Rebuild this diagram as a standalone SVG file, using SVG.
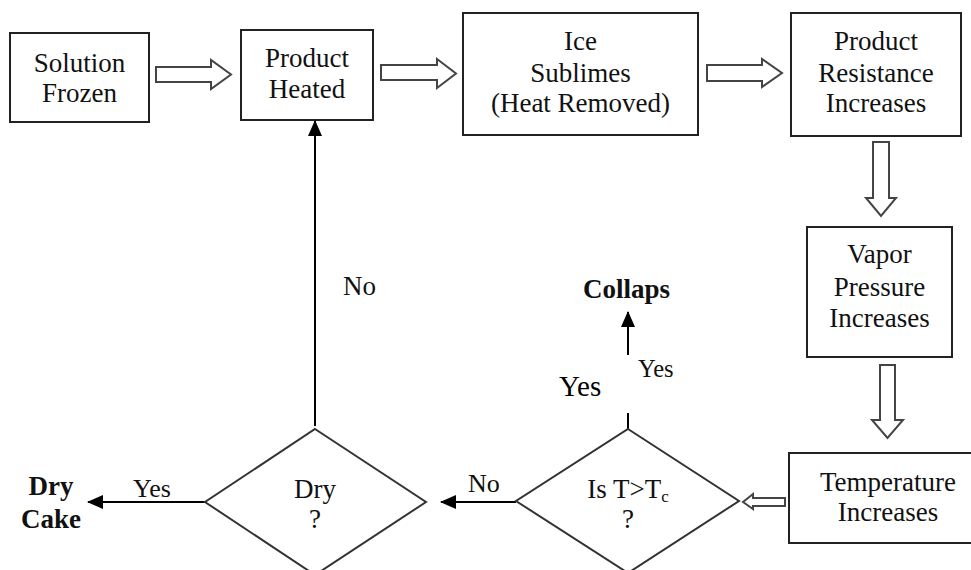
<svg xmlns="http://www.w3.org/2000/svg" width="971" height="570" viewBox="0 0 971 570">
<defs>
<style>
.box{fill:#fff;stroke:#222;stroke-width:2}
.dia{fill:#fff;stroke:#333;stroke-width:2}
.hol{fill:#fff;stroke:#444;stroke-width:2;stroke-linejoin:miter}
.con{fill:none;stroke:#000;stroke-width:2}
.t{font-family:"Liberation Serif","Times New Roman",serif;font-size:27px;fill:#111}
.c{text-anchor:middle}
.b{font-weight:bold}
</style>
<marker id="ah" markerUnits="userSpaceOnUse" markerWidth="16" markerHeight="14" refX="15" refY="7" orient="auto">
<path d="M0,0 L16,7 L0,14 Z" fill="#000"/>
</marker>
</defs>
<rect width="971" height="570" fill="#fff"/>

<g id="connectors">
<path class="hol" d="M156,67 H211 V60 L231,74.5 L211,89 V82 H156 Z"/>
<path class="hol" d="M381,65 H437 V59 L456,73.5 L437,88 V80 H381 Z"/>
<path class="hol" d="M707,65 H762 V59 L782,73 L762,87 V81 H707 Z"/>
<path class="hol" d="M873,142 V198 H866 L881,216 L896,198 H889 V142 Z"/>
<path class="hol" d="M880,365 V420 H872 L887.5,438 L903,420 H895 V365 Z"/>
<path class="hol" d="M785,498 H753 V494 L743,502 L753,509 V506 H785 Z"/>
<line class="con" x1="315" y1="426" x2="315" y2="121" marker-end="url(#ah)"/>
<line class="con" x1="516" y1="502" x2="441" y2="502" marker-end="url(#ah)"/>
<line class="con" x1="205" y1="502" x2="88" y2="502" marker-end="url(#ah)"/>
<line class="con" x1="628" y1="429" x2="628" y2="413"/>
<line class="con" x1="628" y1="355" x2="628" y2="312" marker-end="url(#ah)"/>
<text class="t" x="343" y="295">No</text>
<text class="t" x="468" y="492" style="font-size:26px">No</text>
<text class="t" x="133" y="497" style="font-size:26px">Yes</text>
<text class="t" x="638" y="377" style="font-size:24.5px">Yes</text>
<text class="t" x="559" y="396" style="font-size:29px;fill:#000">Yes</text>
</g>

<g id="solution-frozen">
<rect class="box" x="10" y="33" width="139" height="89"/>
<text class="t c"><tspan x="79.5" y="72">Solution</tspan><tspan x="79.5" y="102">Frozen</tspan></text>
</g>
<g id="product-heated">
<rect class="box" x="241" y="30" width="132" height="90"/>
<text class="t c"><tspan x="307" y="67">Product</tspan><tspan x="307" y="98">Heated</tspan></text>
</g>
<g id="ice-sublimes">
<rect class="box" x="463" y="13" width="235" height="122"/>
<text class="t c"><tspan x="580.5" y="50">Ice</tspan><tspan x="580.5" y="82">Sublimes</tspan><tspan x="580.5" y="112">(Heat Removed)</tspan></text>
</g>
<g id="product-resistance">
<rect class="box" x="791" y="13" width="170" height="123"/>
<text class="t c"><tspan x="876" y="50">Product</tspan><tspan x="876" y="82">Resistance</tspan><tspan x="876" y="112">Increases</tspan></text>
</g>
<g id="vapor-pressure">
<rect class="box" x="807" y="227" width="145" height="130"/>
<text class="t c"><tspan x="879.5" y="263">Vapor</tspan><tspan x="879.5" y="296">Pressure</tspan><tspan x="879.5" y="327">Increases</tspan></text>
</g>
<g id="temperature">
<rect class="box" x="789" y="453" width="200" height="90"/>
<text class="t c"><tspan x="888" y="491">Temperature</tspan><tspan x="888" y="521">Increases</tspan></text>
</g>
<g id="is-t-tc">
<path class="dia" d="M628,429 L739,501 L628,573 L516,501 Z"/>
<text class="t c"><tspan x="628" y="498">Is T&gt;T<tspan style="font-size:17px" dy="4">c</tspan></tspan><tspan x="628" y="528">?</tspan></text>
</g>
<g id="dry">
<path class="dia" d="M315,429 L426,502 L315,575 L205,502 Z"/>
<text class="t c"><tspan x="315" y="498">Dry</tspan><tspan x="315" y="528">?</tspan></text>
</g>
<g id="dry-cake">
<text class="t c b"><tspan x="51" y="495">Dry</tspan><tspan x="51" y="528">Cake</tspan></text>
</g>
<g id="collaps">
<text class="t c b" x="626.5" y="298">Collaps</text>
</g>
</svg>
